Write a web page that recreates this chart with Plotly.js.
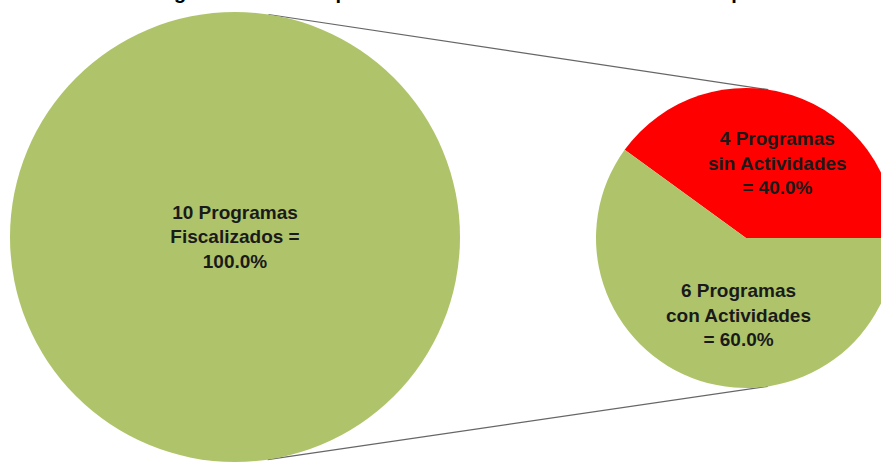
<!DOCTYPE html>
<html>
<head>
<meta charset="utf-8">
<script src="https://cdn.plot.ly/plotly-3.0.1.min.js"></script>
<style>
html, body { margin: 0; padding: 0; overflow: hidden; background: #ffffff; }
#chart { width: 900px; height: 462px; }
</style>
</head>
<body>
<div id="chart"></div>
<script>
// ---- data ----
const titleText = "Diagrama N° 1: Composición de los Totales de Actividades Específicas";
const totalLabels = ["Programas Fiscalizados"];
const totalValues = [10];
const totalText = ["10 Programas<br>Fiscalizados =<br>100.0%"];
const splitLabels = ["Programas sin Actividades", "Programas con Actividades"];
const splitValues = [4, 6];
const splitText = ["4 Programas<br>sin Actividades<br>= 40.0%", "6 Programas<br>con Actividades<br>= 60.0%"];

// ---- geometry (figure pixels) ----
const W = 900, H = 462;
const bigDom = { x: [10 / W, 460 / W], y: [0, 1 - 12 / H] };
const smallDom = { x: [596 / W, 896 / W], y: [1 - 388 / H, 1 - 88 / H] };

function circleOf(dom) {
  const w = (dom.x[1] - dom.x[0]) * W, h = (dom.y[1] - dom.y[0]) * H;
  const r = Math.min(w, h) / 2;
  const cx = (dom.x[0] + dom.x[1]) / 2 * W;
  const cy = (1 - (dom.y[0] + dom.y[1]) / 2) * H;
  return { cx, cy, r };
}
const A = circleOf(bigDom), B = circleOf(smallDom);

// external tangents between the two circles
function tangents(a, b) {
  const dx = b.cx - a.cx, dy = b.cy - a.cy;
  const d = Math.hypot(dx, dy);
  const base = Math.atan2(dy, dx);
  const off = Math.acos((a.r - b.r) / d);
  return [base - off, base + off].map(t => {
    const nx = Math.cos(t), ny = Math.sin(t);
    return { x0: a.cx + a.r * nx, y0: a.cy + a.r * ny, x1: b.cx + b.r * nx, y1: b.cy + b.r * ny };
  });
}
const shapes = tangents(A, B).map(t => ({
  type: "line", xref: "paper", yref: "paper", layer: "below",
  x0: t.x0 / W, y0: 1 - t.y0 / H, x1: t.x1 / W, y1: 1 - t.y1 / H,
  line: { color: "#666666", width: 1.2 }
}));

const labelFont = { family: "Liberation Sans, Arial, sans-serif", size: 19, color: "#1a1a1a", weight: "bold" };

// label placement inside the small pie, as offsets relative to its radius
const labelOffsets = [[0.21, -0.50], [-0.05, 0.51]];
const splitAnnotations = splitText.map((t, i) => ({
  text: "<b>" + t + "</b>", xref: "paper", yref: "paper", showarrow: false,
  x: (B.cx + labelOffsets[i][0] * B.r) / W,
  y: 1 - (B.cy + labelOffsets[i][1] * B.r) / H,
  xanchor: "center", yanchor: "middle", align: "center",
  font: { family: labelFont.family, size: labelFont.size, color: labelFont.color }
}));

const traces = [
  {
    type: "pie", labels: totalLabels, values: totalValues, text: totalText,
    textinfo: "text", textposition: "inside", insidetextorientation: "horizontal",
    domain: bigDom, sort: false, hoverinfo: "none",
    marker: { colors: ["#afc46a"], line: { width: 0 } },
    textfont: labelFont, showlegend: false
  },
  {
    type: "pie", labels: splitLabels, values: splitValues,
    textinfo: "none",
    domain: smallDom, sort: false, direction: "counterclockwise", rotation: -54,
    hoverinfo: "none",
    marker: { colors: ["#ff0000", "#afc46a"], line: { width: 0 } },
    showlegend: false
  }
];

const layout = {
  width: W, height: H,
  margin: { l: 0, r: 0, t: 0, b: 0 },
  paper_bgcolor: "#ffffff", plot_bgcolor: "#ffffff",
  showlegend: false,
  shapes: shapes,
  annotations: [{
    text: "<b>" + titleText + "</b>", xref: "paper", yref: "paper",
    x: 480 / W, y: 1, xanchor: "center", yanchor: "bottom", yshift: -5,
    showarrow: false,
    font: { family: "Liberation Sans, Arial, sans-serif", size: 20, color: "#000000" }
  }].concat(splitAnnotations)
};

Plotly.newPlot("chart", traces, layout, { staticPlot: true, displayModeBar: false });
</script>
</body>
</html>
